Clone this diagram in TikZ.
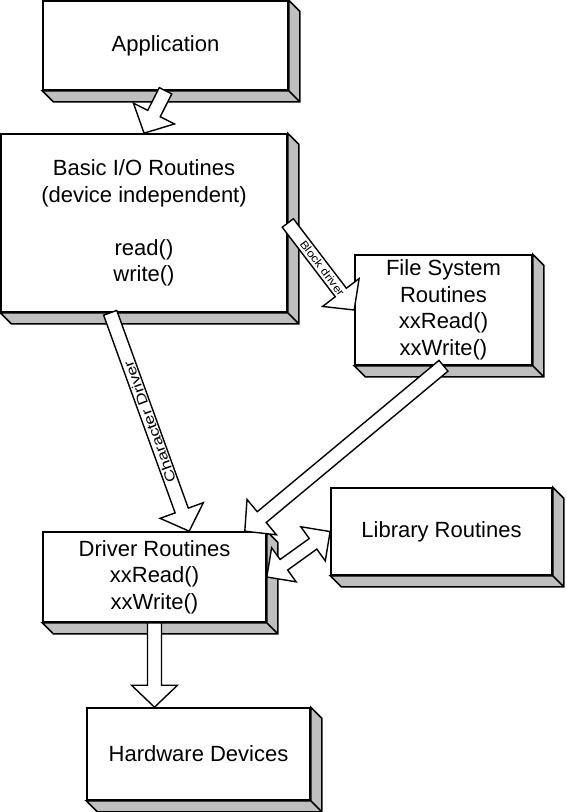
\documentclass[tikz,border=0pt]{standalone}
\usepackage{fontspec}
\setmainfont{Liberation Sans}
\usetikzlibrary{calc}

\tikzset{
  box/.style={draw, line width=1.6pt, fill=white, align=center, inner sep=0pt,
    font=\fontsize{22}{26.5}\selectfont},
  side/.style={draw, line width=1.6pt, fill=black!25},
  tag/.style={inner sep=0pt, font=\fontsize{#1}{#1}\selectfont},
  along/.style={shift={(\p1)}, rotate=\n1},
  fatarrow/.style={draw, fill=white, line width=1.4pt,
    to path={let \p1=(\tikztostart), \p2=(\tikztotarget),
      \n1={atan2(\y2-\y1,\x2-\x1)}, \n2={veclen(\x2-\x1,\y2-\y1)} in
      ([along]0,-7) -- ([along]\n2-22,-7) -- ([along]\n2-22,-23) -- ([along]\n2,0)
      -- ([along]\n2-22,23) -- ([along]\n2-22,7) -- ([along]0,7) -- cycle}},
  fatarrows/.style={draw, fill=white, line width=1.4pt,
    to path={let \p1=(\tikztostart), \p2=(\tikztotarget),
      \n1={atan2(\y2-\y1,\x2-\x1)}, \n2={veclen(\x2-\x1,\y2-\y1)} in
      ([along]0,0) -- ([along]21,-21) -- ([along]21,-6.5) -- ([along]\n2-21,-6.5)
      -- ([along]\n2-21,-21) -- ([along]\n2,0) -- ([along]\n2-21,21)
      -- ([along]\n2-21,6.5) -- ([along]21,6.5) -- ([along]21,21) -- cycle}}
}

\begin{document}
\begin{tikzpicture}[x=1pt, y=-1pt]

  \useasboundingbox (0,0) rectangle (567,812);

  %%-- BOXES (front faces) --%%
  \node[box, minimum width=245pt, minimum height=89pt]  (app) at (165.5,45.5) {Application};
  \node[box, minimum width=286pt, minimum height=178pt] (bio) at (144,223)
    {Basic I/O Routines\\(device independent)\\[26.5pt]read()\\write()};
  \node[box, minimum width=177pt, minimum height=110pt] (fsr) at (443.5,310)
    {File System\\Routines\\xxRead()\\xxWrite()};
  \node[box, minimum width=223pt, minimum height=90pt]  (drv) at (154.5,577)
    {Driver Routines\\xxRead()\\xxWrite()};
  \node[box, minimum width=221pt, minimum height=87pt]  (lib) at (441.5,531.5) {Library Routines};
  \node[box, minimum width=223pt, minimum height=92pt]  (hwd) at (198.5,754) {Hardware Devices};

  %%-- 3D SIDES (right and bottom, depth 11) --%%
  \foreach \n in {app,bio,fsr,drv,lib,hwd} {
    \draw[side] (\n.north east) -- ++(11,11) -- ($(\n.south east)+(11,11)$)
      -- ($(\n.south west)+(11,11)$) -- (\n.south west) -- (\n.south east) -- cycle
      (\n.south east) -- ++(11,11);
  }

  %%-- BLOCK ARROWS --%%
  \draw[fatarrow]  (app.south) to (bio.north);
  \draw[fatarrow]  (bio.east) to (fsr.west);
  \draw[fatarrow]  ([xshift=110pt]bio.south west) to ([xshift=147pt]drv.north west);
  \draw[fatarrow]  (fsr.south) to ([xshift=-22pt]drv.north east);
  \draw[fatarrows] (drv.east) to (lib.west);
  \draw[fatarrow]  (drv.south) to (drv.south |- hwd.north);

  %%-- ARROW LABELS --%%
  \node[tag=11, rotate=-53, xscale=1.15] (bdl) at ($(bio.east)!0.52!(fsr.west)$) {Block driver};
  \node[tag=14, rotate=110, xscale=1.25] (cdl)
    at ($([xshift=110pt]bio.south west)!0.5!([xshift=147pt]drv.north west)$) {Character Driver};

\end{tikzpicture}
\end{document}
